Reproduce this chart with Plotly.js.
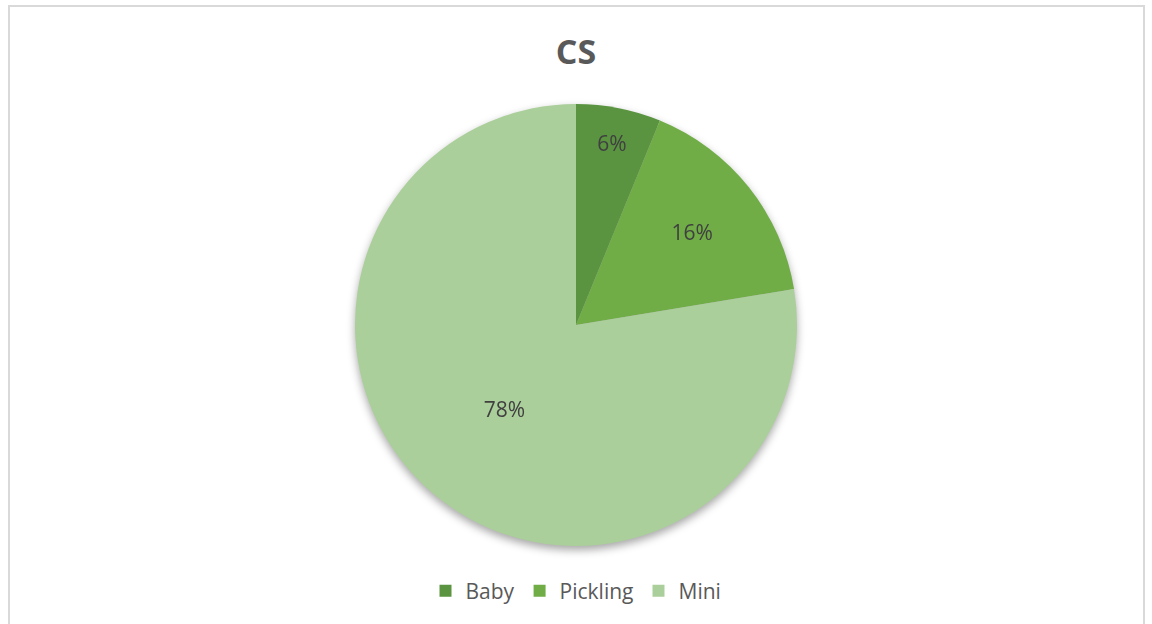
<!DOCTYPE html>
<html>
<head>
<meta charset="utf-8">
<script src="https://cdn.plot.ly/plotly-3.0.1.min.js"></script>
<style>
html,body{margin:0;padding:0;background:#fff;}
#chart{width:1152px;height:624px;}
#chart .pielayer{filter:drop-shadow(0px 4px 4px rgba(0,0,0,0.35));}
</style>
</head>
<body>
<div id="chart"></div>
<script>
const categories = ["Baby", "Pickling", "Mini"];
const shares = [6.2, 16.2, 77.6];
const sliceColors = ["#5a9440", "#70ad47", "#abcf9a"];

const W = 1152, H = 624;
const data = [{
  type: "pie",
  labels: categories,
  values: shares,
  sort: false,
  direction: "clockwise",
  rotation: 0,
  marker: {colors: sliceColors, line: {width: 0}},
  texttemplate: "%{percent:.0%}",
  textposition: "inside",
  insidetextorientation: "horizontal",
  textfont: {family: "Open Sans, sans-serif", size: 21, color: "#404040"},
  domain: {x: [0, 1], y: [1 - 546 / H, 1 - 104 / H]},
  hoverinfo: "label+percent"
}];

const layout = {
  width: W, height: H,
  margin: {l: 0, r: 0, t: 0, b: 0},
  paper_bgcolor: "#ffffff",
  title: {
    text: "<b>CS</b>",
    x: 0.5, xanchor: "center",
    y: 1 - 52 / H, yanchor: "middle",
    font: {family: "Open Sans, sans-serif", size: 34, color: "#595959"}
  },
  showlegend: true,
  legend: {
    orientation: "h",
    x: 0.5, xanchor: "center",
    y: 1 - 591 / H, yanchor: "middle",
    font: {family: "Open Sans, sans-serif", size: 21, color: "#595959"},
    itemclick: false
  },
  shapes: [{
    type: "rect", xref: "paper", yref: "paper",
    x0: 9 / W, x1: 1144 / W, y0: -0.02, y1: 1 - 6 / H,
    line: {color: "#d9d9d9", width: 2}, fillcolor: "rgba(0,0,0,0)", layer: "below"
  }]
};

Plotly.newPlot("chart", data, layout, {displayModeBar: false, staticPlot: true});
</script>
</body>
</html>
